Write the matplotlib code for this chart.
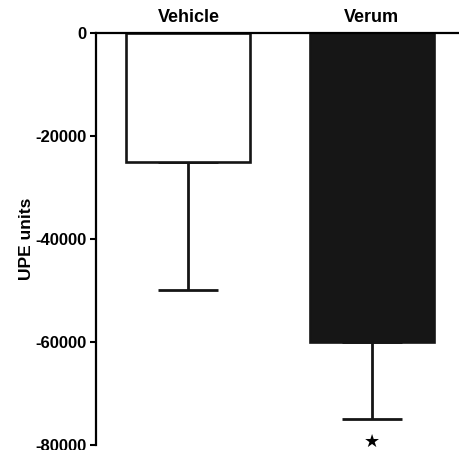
import matplotlib
matplotlib.use("Agg")
import matplotlib.pyplot as plt

plt.rcParams['font.family'] = ['Liberation Sans', 'DejaVu Sans']
plt.rcParams['font.weight'] = 'bold'

# data
groups = ["Vehicle", "Verum"]
means = [-25000, -60000]
errors = [25000, 15000]
fills = ["white", "#161616"]
signif = ["", "★"]

fig = plt.figure(figsize=(4.6, 4.5), dpi=100)
ax = fig.add_axes([0.2087, 0.0111, 0.7913, 0.9156])

pos = list(range(len(groups)))
ax.bar(pos, means, width=0.676, color=fills, edgecolor="#151515", linewidth=1.9, zorder=2)
ax.errorbar(pos, means, yerr=[errors, [0] * len(errors)], fmt="none", ecolor="#151515",
            elinewidth=2, capsize=21.5, capthick=2, zorder=1)

# significance marker under the error bar
for x, m, e, s in zip(pos, means, errors, signif):
    if s:
        ax.text(x, m - e - 4400, s, ha="center", va="center", fontsize=13,
                family=["DejaVu Sans"], clip_on=False)

ax.set_xlim(-0.504, 1.480)
ax.set_ylim(-80000, 0)
ax.set_yticks([0, -20000, -40000, -60000, -80000])
ax.set_yticklabels(["0", "-20000", "-40000", "-60000", "-80000"])
ax.set_ylabel("UPE units", fontsize=12.5, fontweight="bold", labelpad=1)

ax.set_xticks(pos)
ax.set_xticklabels(groups, fontsize=13, fontweight="bold")
ax.xaxis.tick_top()
ax.tick_params(axis="x", length=0, pad=5)
ax.tick_params(axis="y", length=4.5, width=1.5, labelsize=12, pad=2.5)

ax.spines["right"].set_visible(False)
ax.spines["bottom"].set_visible(False)
ax.spines["top"].set_linewidth(1.6)
ax.spines["left"].set_linewidth(1.6)

fig.savefig("out.png", dpi=100)
